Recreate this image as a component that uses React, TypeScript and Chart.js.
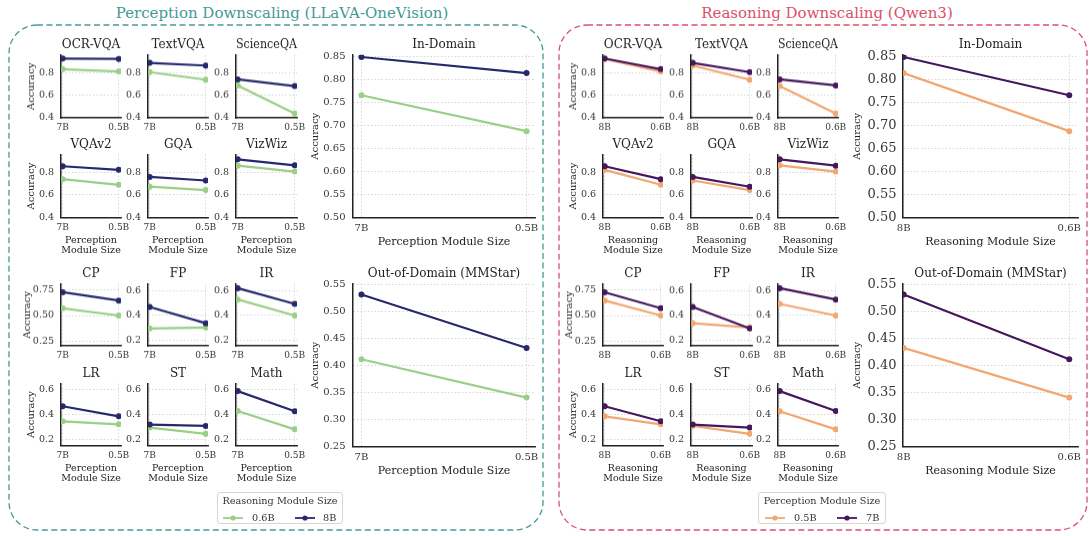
import React, { useEffect, useRef } from "react";
import { Chart, registerables } from "chart.js";
Chart.register(...registerables);

const FONT = "'DejaVu Serif', 'Liberation Serif', serif";

// ---------- data ----------
const benchmarks = ["OCR-VQA", "TextVQA", "ScienceQA", "VQAv2", "GQA", "VizWiz", "CP", "FP", "IR", "LR", "ST", "Math"];
// accuracy per (perception size, reasoning size) combination
const accP7R8 = [0.923, 0.885, 0.739, 0.853, 0.759, 0.914, 0.727, 0.469, 0.619, 0.468, 0.322, 0.589];
const accP05R8 = [0.92, 0.861, 0.68, 0.821, 0.727, 0.861, 0.646, 0.338, 0.493, 0.388, 0.311, 0.428];
const accP7R06 = [0.829, 0.803, 0.686, 0.739, 0.672, 0.858, 0.571, 0.296, 0.528, 0.348, 0.298, 0.43];
const accP05R06 = [0.809, 0.736, 0.438, 0.689, 0.642, 0.806, 0.5, 0.304, 0.4, 0.324, 0.248, 0.284];
const aggregates = ["In-Domain", "Out-of-Domain (MMStar)"];
const aggP7R8 = [0.849, 0.532];
const aggP05R8 = [0.814, 0.433];
const aggP7R06 = [0.766, 0.412];
const aggP05R06 = [0.688, 0.341];
const perceptionSizes = ["7B", "0.5B"];
const reasoningSizes = ["8B", "0.6B"];
const yTicksHigh = [0.4, 0.6, 0.8];
const yTicksCP = [0.25, 0.5, 0.75];
const yTicksLow = [0.2, 0.4, 0.6];
const yTicksInDomain = [0.5, 0.55, 0.6, 0.65, 0.7, 0.75, 0.8, 0.85];
const yTicksOOD = [0.25, 0.3, 0.35, 0.4, 0.45, 0.5, 0.55];

// ---------- styles ----------
const C_NAVY = "#262a6c";
const C_GREEN = "#9acf86";
const C_PURPLE = "#45175c";
const C_ORANGE = "#f2a772";
const TEAL = "#449996";
const PINK = "#d9506c";
const GRID = "#cdcdcd";
const AXIS = "#222222";
const TICK = "#363636";
const TPT = 2;
const TPB = 2.3;

type Series = { label: string; values: number[]; color: string };
type Spec = {
  area: [number, number, number, number];
  title: string;
  titleSize: number;
  xLabels: string[];
  xMin: number;
  xMax: number;
  xTickSize: number;
  xTickPad: number;
  xTitle: string | string[] | null;
  xTitleSize: number;
  xTitleLH: number;
  hx: number;
  yMin: number;
  yMax: number;
  yTicks: number[];
  yDec: number;
  yTickSize: number;
  yTickPad: number;
  wy: number;
  yTitle: boolean;
  yTitlePad: number;
  padR: number;
  pointRadius: number;
  series: Series[];
};

function geometry(s: Spec) {
  const [l, t, r, b] = s.area;
  const tb = s.titleSize * 1.2 + TPT + TPB;
  return { x: l - s.wy, y: t - tb, w: s.wy + (r - l) + s.padR, h: tb + (b - t) + s.hx };
}

function buildConfig(s: Spec): any {
  return {
    type: "line",
    data: {
      datasets: s.series.map((se) => ({
        label: se.label,
        data: se.values.map((v, i) => ({ x: i, y: v })),
        borderColor: se.color,
        backgroundColor: se.color,
        pointBackgroundColor: se.color,
        pointBorderWidth: 0,
        pointRadius: s.pointRadius,
        borderWidth: 2.2,
        tension: 0,
        fill: false,
      })),
    },
    options: {
      animation: false,
      responsive: false,
      maintainAspectRatio: false,
      devicePixelRatio: 1,
      events: [],
      layout: { padding: { left: 0, top: 0, right: s.padR, bottom: 0 } },
      plugins: {
        legend: { display: false },
        tooltip: { enabled: false },
        title: {
          display: true,
          text: s.title,
          fullSize: false,
          color: "#222222",
          font: { family: FONT, size: s.titleSize, weight: "normal", lineHeight: 1.2 },
          padding: { top: TPT, bottom: TPB },
        },
      },
      scales: {
        x: {
          type: "linear",
          min: s.xMin,
          max: s.xMax,
          afterBuildTicks: (sc: any) => {
            sc.ticks = s.xLabels.map((_, i) => ({ value: i }));
          },
          afterFit: (sc: any) => {
            sc.height = s.hx;
          },
          ticks: {
            callback: (v: any) => s.xLabels[Math.round(Number(v))] ?? "",
            font: { family: FONT, size: s.xTickSize },
            color: TICK,
            padding: s.xTickPad,
            maxRotation: 0,
            autoSkip: false,
          },
          grid: { color: GRID, lineWidth: 0.8, drawTicks: false },
          border: { display: true, color: AXIS, width: 1.5, dash: [1.5, 2] },
          title: s.xTitle
            ? {
                display: true,
                text: s.xTitle,
                color: "#222222",
                font: { family: FONT, size: s.xTitleSize, lineHeight: s.xTitleLH },
                padding: { top: 0, bottom: 0 },
              }
            : { display: false },
        },
        y: {
          type: "linear",
          min: s.yMin,
          max: s.yMax,
          afterBuildTicks: (sc: any) => {
            sc.ticks = s.yTicks.map((v) => ({ value: v }));
          },
          afterFit: (sc: any) => {
            sc.width = s.wy;
          },
          ticks: {
            callback: (v: any) => Number(v).toFixed(s.yDec),
            font: { family: FONT, size: s.yTickSize },
            color: TICK,
            padding: s.yTickPad,
            autoSkip: false,
          },
          grid: { color: GRID, lineWidth: 0.8, drawTicks: false },
          border: { display: true, color: AXIS, width: 1.5, dash: [1.5, 2] },
          title: s.yTitle
            ? {
                display: true,
                text: "Accuracy",
                color: "#222222",
                font: { family: FONT, size: 10, lineHeight: 1.2 },
                padding: { top: s.yTitlePad, bottom: 0 },
              }
            : { display: false },
        },
      },
    },
  };
}

function ChartBox({ spec }: { spec: Spec }) {
  const ref = useRef<HTMLCanvasElement>(null);
  const g = geometry(spec);
  useEffect(() => {
    const c = new Chart(ref.current as HTMLCanvasElement, buildConfig(spec));
    return () => c.destroy();
  }, []);
  return (
    <canvas
      ref={ref}
      width={g.w}
      height={g.h}
      style={{ position: "absolute", left: g.x, top: g.y, width: g.w, height: g.h }}
    />
  );
}

// ---------- layout ----------
const leftCols: [number, number][] = [[61, 121], [148, 208], [236, 297]];
const rightCols: [number, number][] = [[603, 663], [691, 752], [778, 838]];
const rows: [number, number][] = [[55, 118], [155, 218], [284, 346], [384, 446]];
const yRanges: [number, number][] = [
  [0.4, 0.955], [0.4, 0.955], [0.4, 0.955], [0.4, 0.955], [0.4, 0.955], [0.4, 0.955],
  [0.205, 0.808], [0.157, 0.653], [0.157, 0.653], [0.155, 0.648], [0.155, 0.648], [0.155, 0.648],
];
const yTickSets = [
  yTicksHigh, yTicksHigh, yTicksHigh, yTicksHigh, yTicksHigh, yTicksHigh,
  yTicksCP, yTicksLow, yTicksLow, yTicksLow, yTicksLow, yTicksLow,
];

function smallSpec(i: number, side: "left" | "right"): Spec {
  const row = Math.floor(i / 3);
  const col = i % 3;
  const cx = side === "left" ? leftCols[col] : rightCols[col];
  const ry = rows[row];
  const withXTitle = row === 1 || row === 3;
  const series: Series[] =
    side === "left"
      ? [
          { label: reasoningSizes[0], values: [accP7R8[i], accP05R8[i]], color: C_NAVY },
          { label: reasoningSizes[1], values: [accP7R06[i], accP05R06[i]], color: C_GREEN },
        ]
      : [
          { label: perceptionSizes[0], values: [accP7R8[i], accP7R06[i]], color: C_PURPLE },
          { label: perceptionSizes[1], values: [accP05R8[i], accP05R06[i]], color: C_ORANGE },
        ];
  return {
    area: [cx[0], ry[0], cx[1], ry[1]],
    title: benchmarks[i],
    titleSize: 12,
    xLabels: side === "left" ? perceptionSizes : reasoningSizes,
    xMin: -0.03,
    xMax: 1.04,
    xTickSize: 9,
    xTickPad: 4.5,
    xTitle: withXTitle ? (side === "left" ? ["Perception", "Module Size"] : ["Reasoning", "Module Size"]) : null,
    xTitleSize: 9.5,
    xTitleLH: 1.08,
    hx: withXTitle ? 38.5 : 20,
    yMin: yRanges[i][0],
    yMax: yRanges[i][1],
    yTicks: yTickSets[i],
    yDec: i === 6 ? 2 : 1,
    yTickSize: 9.5,
    yTickPad: 7,
    wy: col === 0 ? 40 : 30,
    yTitle: col === 0,
    yTitlePad: i === 6 ? 0 : 4.7,
    padR: 18,
    pointRadius: 3,
    series,
  };
}

function bigSpec(k: number, side: "left" | "right"): Spec {
  const area: [number, number, number, number] =
    side === "left"
      ? k === 0 ? [353, 55, 535, 218] : [353, 284, 535, 447]
      : k === 0 ? [903, 55, 1078, 218] : [903, 284, 1078, 447];
  const series: Series[] =
    side === "left"
      ? [
          { label: reasoningSizes[0], values: [aggP7R8[k], aggP05R8[k]], color: C_NAVY },
          { label: reasoningSizes[1], values: [aggP7R06[k], aggP05R06[k]], color: C_GREEN },
        ]
      : [
          { label: perceptionSizes[0], values: [aggP7R8[k], aggP7R06[k]], color: C_PURPLE },
          { label: perceptionSizes[1], values: [aggP05R8[k], aggP05R06[k]], color: C_ORANGE },
        ];
  return {
    area,
    title: aggregates[k],
    titleSize: 12,
    xLabels: side === "left" ? perceptionSizes : reasoningSizes,
    xMin: side === "left" ? -0.051 : -0.004,
    xMax: side === "left" ? 1.051 : 1.053,
    xTickSize: 10,
    xTickPad: 5,
    xTitle: side === "left" ? "Perception Module Size" : "Reasoning Module Size",
    xTitleSize: 11,
    xTitleLH: 1.2,
    hx: 31.3,
    yMin: k === 0 ? 0.5 : 0.25,
    yMax: k === 0 ? 0.854 : 0.552,
    yTicks: k === 0 ? yTicksInDomain : yTicksOOD,
    yDec: 2,
    yTickSize: side === "left" ? 10 : 13,
    yTickPad: side === "left" ? 7.5 : 6.5,
    wy: side === "left" ? 46 : 52,
    yTitle: true,
    yTitlePad: side === "left" ? 2.5 : 0,
    padR: 16,
    pointRadius: 3,
    series,
  };
}

type LegendItem = { label: string; color: string; mx: number; tx: number };
function Legend({ left, width, title, items }: { left: number; width: number; title: string; items: LegendItem[] }) {
  return (
    <div
      style={{
        position: "absolute",
        left,
        top: 492,
        width,
        height: 32,
        border: "1px solid #d6d6d6",
        borderRadius: 3,
        boxSizing: "border-box",
        background: "#fff",
        fontFamily: FONT,
        color: "#333",
      }}
    >
      <div style={{ position: "absolute", left: 0, right: 0, top: 1.5, textAlign: "center", fontSize: 9.7, lineHeight: "12px", whiteSpace: "nowrap" }}>
        {title}
      </div>
      {items.map((it, k) => (
        <React.Fragment key={k}>
          <svg style={{ position: "absolute", left: it.mx, top: 20.5 }} width={20} height={8}>
            <line x1={0} y1={4} x2={20} y2={4} stroke={it.color} strokeWidth={1.8} />
            <circle cx={10} cy={4} r={2.6} fill={it.color} />
          </svg>
          <div style={{ position: "absolute", left: it.tx, top: 18.5, fontSize: 9.7, lineHeight: "12px", whiteSpace: "nowrap" }}>
            {it.label}
          </div>
        </React.Fragment>
      ))}
    </div>
  );
}

export default function App() {
  const specs: Spec[] = [];
  benchmarks.forEach((_, i) => specs.push(smallSpec(i, "left")));
  benchmarks.forEach((_, i) => specs.push(smallSpec(i, "right")));
  aggregates.forEach((_, k) => specs.push(bigSpec(k, "left")));
  aggregates.forEach((_, k) => specs.push(bigSpec(k, "right")));
  return (
    <div style={{ position: "absolute", left: 0, top: 0, width: 1089, height: 536, background: "#fff", overflow: "hidden", fontFamily: FONT }}>
      <svg style={{ position: "absolute", left: 0, top: 0 }} width={1089} height={536}>
        <rect x={9} y={25} width={534} height={505} rx={28} ry={28} fill="none" stroke={TEAL} strokeWidth={1.3} strokeDasharray="6 3.5" />
        <rect x={559} y={25} width={528} height={505} rx={28} ry={28} fill="none" stroke={PINK} strokeWidth={1.3} strokeDasharray="6 3.5" />
      </svg>
      <div style={{ position: "absolute", left: 282, top: 4.5, transform: "translateX(-50%)", fontSize: 15, lineHeight: "17px", color: TEAL, whiteSpace: "nowrap" }}>
        Perception Downscaling (LLaVA-OneVision)
      </div>
      <div style={{ position: "absolute", left: 827, top: 4.5, transform: "translateX(-50%)", fontSize: 15, lineHeight: "17px", color: PINK, whiteSpace: "nowrap" }}>
        Reasoning Downscaling (Qwen3)
      </div>
      {specs.map((s, k) => (
        <ChartBox key={k} spec={s} />
      ))}
      <Legend
        left={217}
        width={126}
        title="Reasoning Module Size"
        items={[
          { label: reasoningSizes[1], color: C_GREEN, mx: 5, tx: 34 },
          { label: reasoningSizes[0], color: C_NAVY, mx: 77, tx: 105 },
        ]}
      />
      <Legend
        left={758}
        width={128}
        title="Perception Module Size"
        items={[
          { label: perceptionSizes[1], color: C_ORANGE, mx: 6, tx: 35 },
          { label: perceptionSizes[0], color: C_PURPLE, mx: 78, tx: 107 },
        ]}
      />
    </div>
  );
}
